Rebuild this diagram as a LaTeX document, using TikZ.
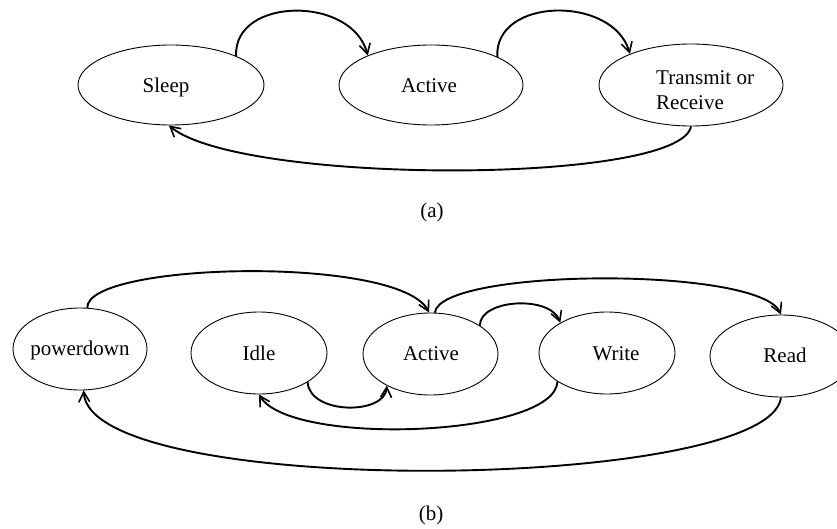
\documentclass[tikz,border=0pt]{standalone}
\usepackage{fontspec}
\setmainfont{Liberation Serif}
\usetikzlibrary{shapes.geometric,arrows.meta}
\begin{document}
\begin{tikzpicture}[x=1pt,y=-1pt,
  state/.style={draw, ellipse, line width=0.9pt, inner sep=0pt, minimum width=#1},
  state/.default=136pt,
  lbl/.style={anchor=base, inner sep=0pt, font=\fontsize{21}{25}\selectfont},
  arr/.style={line width=1.9pt, -{Straight Barb[length=10pt,width=11pt,line width=1.6pt]}}]
\useasboundingbox (0,0) rectangle (837,529);
% (a)
\node[state=186pt, minimum height=80pt] (sleep) at (171,85) {};
\node[state=184pt, minimum height=80pt] (acta) at (431,85) {};
\node[state=184pt, minimum height=82pt] (tr) at (691,85) {};
\node[lbl] (sleept) at (166,93) {Sleep};
\node[lbl] (actat) at (429,93) {Active};
\node[lbl, anchor=base west] (trt1) at (656,85) {Transmit or};
\node[lbl, anchor=base west] (trt2) at (656,110) {Receive};
\node[lbl] (capa) at (432,218) {(a)};
\draw[arr] (sleep.24) .. controls (233,-3) and (352,-5) .. (acta.155);
\draw[arr] (acta.23) .. controls (494,-3) and (613,-5) .. (tr.153);
\draw[arr] (tr.-90) .. controls (680,185) and (240,185) .. (sleep.-93);
% (b)
\node[state=134pt, minimum height=82pt] (pd) at (80,349) {};
\node[state=136pt, minimum height=82pt] (idle) at (259,353) {};
\node[state=135pt, minimum height=82pt] (actb) at (430.5,354) {};
\node[state=136pt, minimum height=82pt] (write) at (607,353) {};
\node[state=142pt, minimum height=82pt] (read) at (781,356) {};
\node[lbl] (pdt) at (80,355) {powerdown};
\node[lbl] (idlet) at (259,360) {Idle};
\node[lbl] (actbt) at (431,360) {Active};
\node[lbl] (writet) at (616,360) {Write};
\node[lbl] (readt) at (785,362) {Read};
\node[lbl] (capb) at (431,520) {(b)};
\draw[arr] (pd.80) .. controls (86,262) and (400,255) .. (actb.92);
\draw[arr] (actb.84) .. controls (440,268) and (760,266) .. (read.90);
\draw[arr] (actb.30) .. controls (480,299) and (550,295) .. (write.147);
\draw[arr] (idle.-31) .. controls (310,415) and (385,415) .. (actb.-144.5);
\draw[arr] (write.210) .. controls (555,437) and (290,447) .. (idle.-90);
\draw[arr] (read.-90) .. controls (770,492) and (90,500) .. (pd.-85);
\end{tikzpicture}
\end{document}
